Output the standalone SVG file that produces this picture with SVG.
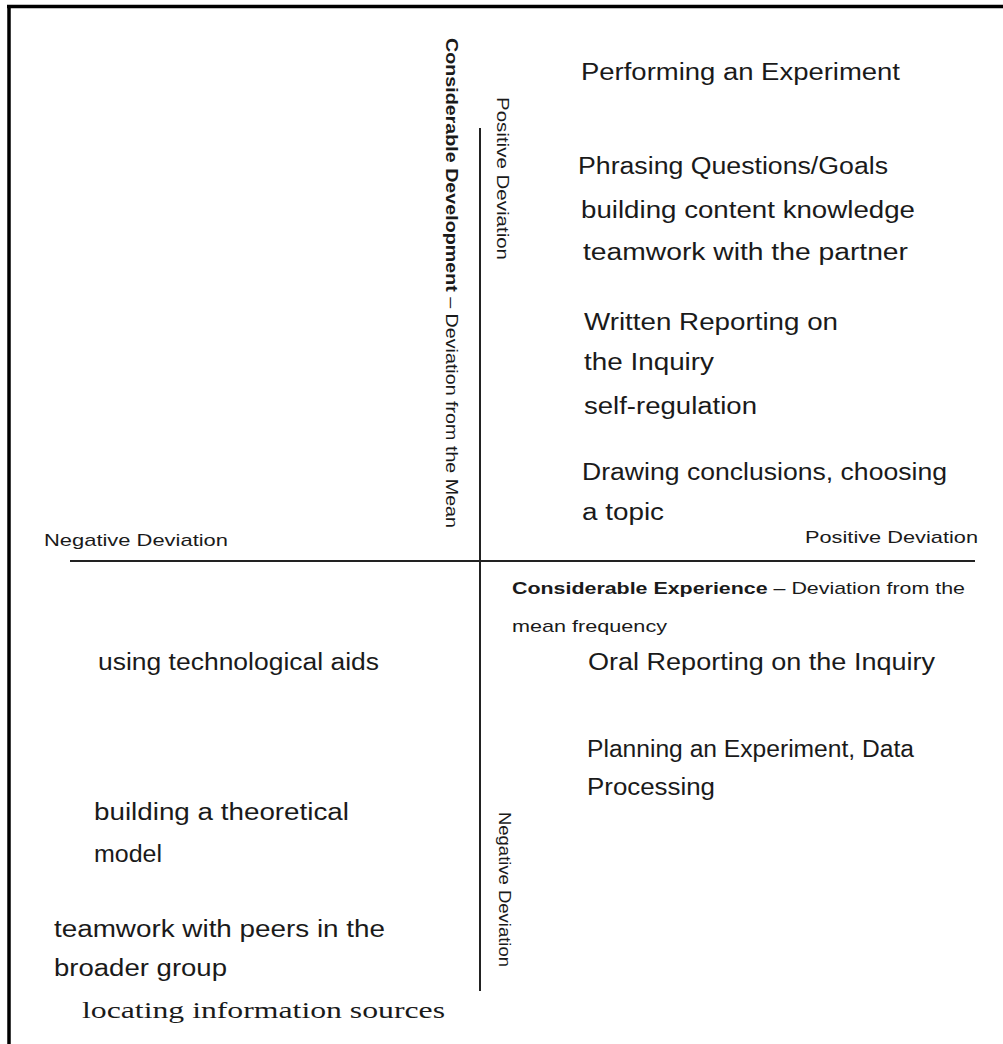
<svg xmlns="http://www.w3.org/2000/svg" width="1003" height="1044" viewBox="0 0 1003 1044">
<style>
.t{font-family:"Liberation Sans",Arial,sans-serif;fill:#1a1a1a}
.l{font-size:23.5px}
.s{font-size:17px}
.b{font-weight:bold}
.serif{font-family:"Liberation Serif","Times New Roman",serif;font-size:24px;fill:#1a1a1a}
.ax{stroke:#222;stroke-width:2;fill:none}
.fr{stroke:#000;stroke-width:3.5;fill:none}
</style>
<rect width="1003" height="1044" fill="#fff"/>
<g id="frame">
<line class="fr" x1="7" y1="6.5" x2="1003" y2="6.5"/>
<line class="fr" x1="9" y1="5" x2="9" y2="1044"/>
</g>
<g id="connectors">
<line class="ax" x1="480" y1="128" x2="480" y2="991"/>
<line class="ax" x1="70" y1="561" x2="975" y2="561"/>
</g>
<g id="axis-labels">
<text class="t s" transform="translate(446,38) rotate(90)" textLength="490" lengthAdjust="spacingAndGlyphs"><tspan class="b">Considerable Development</tspan> – Deviation from the Mean</text>
<text class="t s" transform="translate(497,97) rotate(90)" textLength="163" lengthAdjust="spacingAndGlyphs">Positive Deviation</text>
<text class="t s" transform="translate(499,812) rotate(90)" textLength="155" lengthAdjust="spacingAndGlyphs">Negative Deviation</text>
<text class="t s" x="44" y="546" textLength="184" lengthAdjust="spacingAndGlyphs">Negative Deviation</text>
<text class="t s" x="805" y="543" textLength="173" lengthAdjust="spacingAndGlyphs">Positive Deviation</text>
<text class="t s" x="512" y="594" textLength="453" lengthAdjust="spacingAndGlyphs"><tspan class="b">Considerable  Experience</tspan> – Deviation from the</text>
<text class="t s" x="512" y="632" textLength="155" lengthAdjust="spacingAndGlyphs">mean frequency</text>
</g>
<g id="quadrant-top-right">
<text class="t l" x="581" y="80" textLength="319" lengthAdjust="spacingAndGlyphs">Performing an Experiment</text>
<text class="t l" x="578" y="174" textLength="310" lengthAdjust="spacingAndGlyphs">Phrasing Questions/Goals</text>
<text class="t l" x="581" y="218" textLength="334" lengthAdjust="spacingAndGlyphs">building content knowledge</text>
<text class="t l" x="583" y="260" textLength="325" lengthAdjust="spacingAndGlyphs">teamwork with the partner</text>
<text class="t l" x="584" y="330" textLength="254" lengthAdjust="spacingAndGlyphs">Written Reporting on</text>
<text class="t l" x="584" y="370" textLength="130" lengthAdjust="spacingAndGlyphs">the Inquiry</text>
<text class="t l" x="584" y="414" textLength="173" lengthAdjust="spacingAndGlyphs">self-regulation</text>
<text class="t l" x="582" y="480" textLength="365" lengthAdjust="spacingAndGlyphs">Drawing conclusions, choosing</text>
<text class="t l" x="582" y="520" textLength="82" lengthAdjust="spacingAndGlyphs">a topic</text>
</g>
<g id="quadrant-bottom-right">
<text class="t l" x="588" y="670" textLength="347" lengthAdjust="spacingAndGlyphs">Oral Reporting on the Inquiry</text>
<text class="t l" x="587" y="757" textLength="327" lengthAdjust="spacingAndGlyphs">Planning an Experiment, Data</text>
<text class="t l" x="587" y="795" textLength="128" lengthAdjust="spacingAndGlyphs">Processing</text>
</g>
<g id="quadrant-bottom-left">
<text class="t l" x="98" y="670" textLength="281" lengthAdjust="spacingAndGlyphs">using technological aids</text>
<text class="t l" x="94" y="820" textLength="255" lengthAdjust="spacingAndGlyphs">building a theoretical</text>
<text class="t l" x="94" y="862" textLength="68" lengthAdjust="spacingAndGlyphs">model</text>
<text class="t l" x="54" y="937" textLength="331" lengthAdjust="spacingAndGlyphs">teamwork with peers in the</text>
<text class="t l" x="54" y="976" textLength="173" lengthAdjust="spacingAndGlyphs">broader group</text>
<text class="serif" x="82" y="1018" textLength="363" lengthAdjust="spacingAndGlyphs">locating information sources</text>
</g>
</svg>
